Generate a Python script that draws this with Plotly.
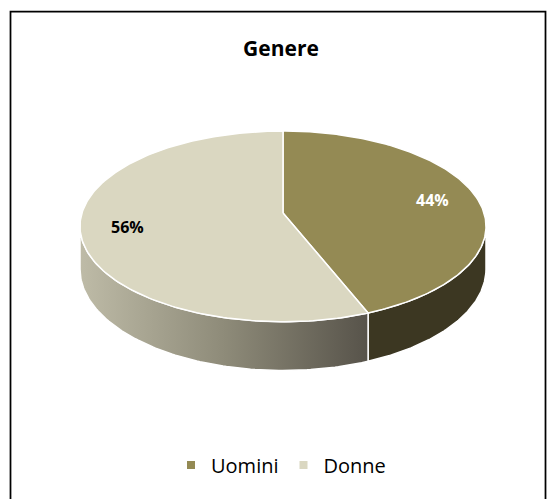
import numpy as np
import plotly.graph_objects as go

# ---- data ----
labels = ["Uomini", "Donne"]
values = [44, 56]
title_text = "Genere"

# ---- style ----
top_colors = ["#948A54", "#DAD7C1"]
side_fills = [
    dict(fillcolor="#3C3722"),
    dict(fillgradient=dict(type="horizontal",
                           colorscale=[[0, "#BEBBA7"], [0.5, "#8E8B79"], [1, "#57534A"]])),
]
label_colors = ["#FFFFFF", "#000000"]
FONT = "Open Sans"

W, H_PX = 553, 499
# projected 3D pie geometry (pixels)
CX, CY = 283, 213
A, B = 201, 93.5
P = 0.14       # perspective factor
DEPTH = 42     # side height


def proj(theta_deg, r=1.0, z=0.0):
    t = np.radians(theta_deg)
    u = r * np.sin(t)
    v = -r * np.cos(t)
    s = 1.0 / (1.0 - P * v)
    return CX + A * u * s, CY + B * v * s + z * s


total = float(sum(values))
bounds = np.concatenate([[0], np.cumsum(values) / total * 360.0])
th_r = np.degrees(np.arccos(-P))
th_l = 360.0 - th_r

fig = go.Figure()

# side walls (front, visible part)
for i in range(len(values)):
    a, b = max(bounds[i], th_r), min(bounds[i + 1], th_l)
    if b <= a:
        continue
    th = np.linspace(a, b, 120)
    xt, yt = proj(th)
    xb, yb = proj(th[::-1], z=DEPTH)
    xs = np.concatenate([xt, xb, xt[:1]])
    ys = np.concatenate([yt, yb, yt[:1]])
    fig.add_trace(go.Scatter(x=xs, y=ys, mode="lines", fill="toself",
                             line=dict(color="white", width=1.5),
                             hoverinfo="skip", showlegend=False, **side_fills[i]))

# top faces
for i in range(len(values)):
    th = np.linspace(bounds[i], bounds[i + 1], 200)
    xa, ya = proj(th)
    xs = np.concatenate([[CX], xa, [CX]])
    ys = np.concatenate([[CY], ya, [CY]])
    fig.add_trace(go.Scatter(x=xs, y=ys, mode="lines", fill="toself",
                             fillcolor=top_colors[i],
                             line=dict(color="white", width=1.5),
                             hoverinfo="skip", showlegend=False))

# legend entries
for i, lab in enumerate(labels):
    fig.add_trace(go.Scatter(x=[None], y=[None], mode="markers", name=lab,
                             marker=dict(symbol="square", size=8, color=top_colors[i])))

# data labels
for i in range(len(values)):
    mid = (bounds[i] + bounds[i + 1]) / 2
    lx, ly = proj(mid, r=0.77)
    fig.add_annotation(x=float(lx), y=float(ly), xref="x", yref="y",
                       text=f"{values[i] / total * 100:.0f}%", showarrow=False,
                       font=dict(family=FONT, size=16, color=label_colors[i], weight="bold"))

# chart border
fig.add_shape(type="rect", xref="x", yref="y", x0=10.5, y0=11.5, x1=545.5, y1=520,
              line=dict(color="black", width=1.75))

fig.update_layout(
    width=W, height=H_PX,
    margin=dict(l=0, r=0, t=0, b=0),
    paper_bgcolor="white", plot_bgcolor="white",
    xaxis=dict(range=[0, W], visible=False, fixedrange=True),
    yaxis=dict(range=[H_PX, 0], visible=False, fixedrange=True),
    title=dict(text=title_text, x=281 / W, y=1 - 49 / H_PX, xanchor="center", yanchor="middle",
               font=dict(family=FONT, size=21, color="black", weight="bold")),
    legend=dict(orientation="h", x=281 / W, y=1 - 465 / H_PX, xanchor="center", yanchor="middle",
                font=dict(family=FONT, size=20, color="black"), itemwidth=30,
                bgcolor="rgba(0,0,0,0)"),
    showlegend=True,
)

fig.write_html("out.html")
